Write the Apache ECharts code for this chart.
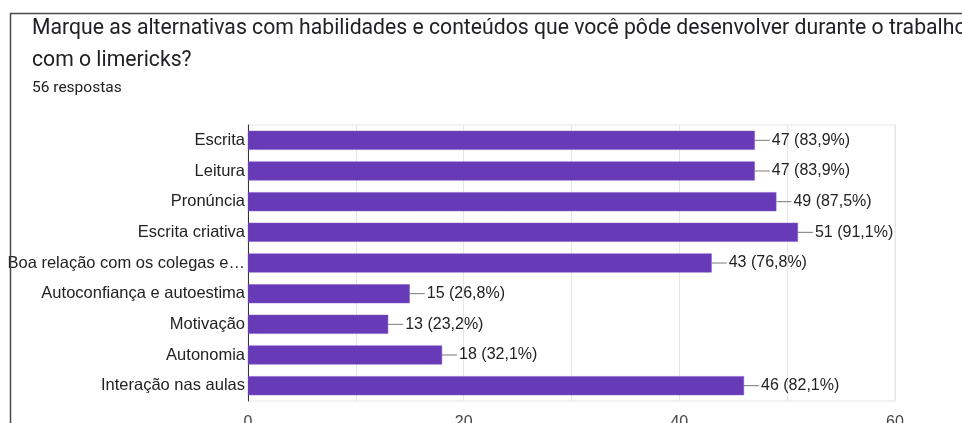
<!DOCTYPE html>
<html>
<head>
<meta charset="utf-8">
<script src="https://cdn.jsdelivr.net/npm/echarts@6/dist/echarts.min.js"></script>
<style>
html,body{margin:0;padding:0;background:#fff;}
#c{width:962px;height:423px;}
</style>
</head>
<body>
<div id="c"></div>
<script>
const titleText = 'Marque as alternativas com habilidades e conteúdos que você pôde desenvolver durante o trabalho\ncom o limericks?';
const subtitleText = '56 respostas';
const categories = ['Escrita','Leitura','Pronúncia','Escrita criativa','Boa relação com os colegas e…','Autoconfiança e autoestima','Motivação','Autonomia','Interação nas aulas'];
const counts = [47,47,49,51,43,15,13,18,46];
const percents = ['83,9%','83,9%','87,5%','91,1%','76,8%','26,8%','23,2%','32,1%','82,1%'];
const xTicks = [0,20,40,60];

const chart = echarts.init(document.getElementById('c'));
chart.setOption({
  animation:false,
  backgroundColor:'#fff',
  title:{
    left:27, top:7.5,
    text:titleText,
    textStyle:{fontFamily:'Roboto',fontSize:21.2,fontWeight:'normal',color:'#202124',lineHeight:32},
    subtext:subtitleText,
    subtextStyle:{fontFamily:'Roboto',fontSize:15.5,color:'#202124',lineHeight:18},
    itemGap:3
  },
  graphic:[
    {type:'line',shape:{x1:10.5,y1:13,x2:10.5,y2:423},style:{stroke:'#4a4a4a',lineWidth:1.5},z:100},
    {type:'line',shape:{x1:10,y1:13.5,x2:962,y2:13.5},style:{stroke:'#4a4a4a',lineWidth:1.5},z:100}
  ],
  grid:{left:248,right:67,top:125,bottom:22,show:true,borderColor:'#e6e6e6',borderWidth:1,outerBoundsMode:'none',containLabel:false},
  xAxis:{
    type:'value',min:0,max:60,interval:10,
    axisLine:{show:false},axisTick:{show:false},
    splitLine:{show:true,lineStyle:{color:'#e6e6e6',width:1}},
    axisLabel:{
      fontFamily:'Liberation Sans',fontSize:16,color:'#444',margin:14,
      formatter:function(v){return xTicks.indexOf(v)>=0?String(v):'';}
    }
  },
  yAxis:{
    type:'category',data:categories,inverse:true,
    axisLine:{show:true,lineStyle:{color:'#333',width:1}},
    axisTick:{show:false},
    axisLabel:{fontFamily:'Liberation Sans',fontSize:16.5,color:'#222',margin:3}
  },
  series:[{
    type:'bar',
    data:counts,
    barWidth:'62%',
    itemStyle:{color:'#673ab7',borderColor:'#7e57c2',borderWidth:0.5},
    label:{
      show:true,position:'right',distance:0,
      fontFamily:'Liberation Sans',fontSize:16,color:'#222',
      formatter:function(p){return '{l| }{t|'+counts[p.dataIndex]+' ('+percents[p.dataIndex]+')}';},
      rich:{
        l:{width:15,height:1,backgroundColor:'#777',fontSize:1},
        t:{fontFamily:'Liberation Sans',fontSize:16,color:'#222',padding:[0,0,0,2]}
      }
    }
  }]
});
</script>
</body>
</html>
